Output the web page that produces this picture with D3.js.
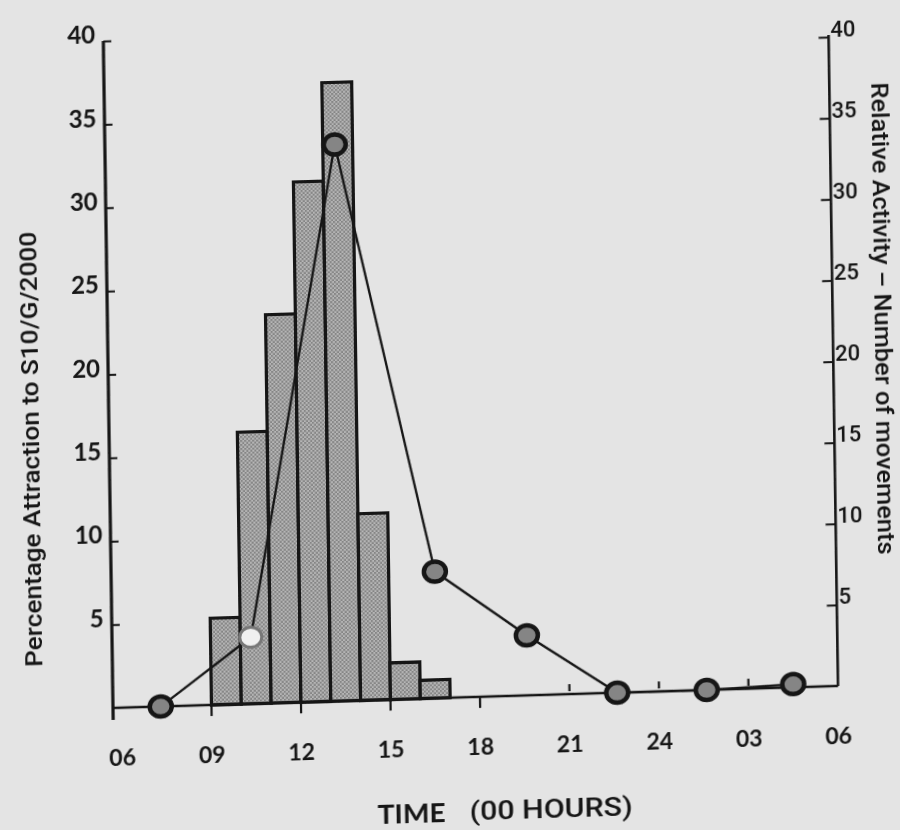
<!DOCTYPE html>
<html>
<head>
<meta charset="utf-8">
<script src="https://cdn.jsdelivr.net/npm/d3@7/dist/d3.min.js"></script>
<style>
  html, body { margin: 0; padding: 0; background: #e4e4e4; }
  svg { display: block; }
</style>
</head>
<body>
<svg id="chart" width="900" height="830"></svg>
<script>
// Hourly bins (start hour) and percentage attraction to S10/G/2000
const binStarts = [9, 10, 11, 12, 13, 14, 15, 16];
const attraction = [5.2, 16.3, 23.3, 31.2, 37.1, 11.2, 2.2, 1.1];

// Relative activity (number of movements), sampled every 3 hours
const activityHours = [7.3, 10.35, 13.4, 16.55, 19.6, 22.6, 25.6, 28.5];
const activity = [0, 4.1, 34.3, 7.8, 3.7, 0, 0, 0.2];

// Time axis (hours past midnight of day 1; 24+ runs into the next day)
const timeTicks = [6, 9, 12, 15, 18, 21, 24, 27, 30];
const timeTickLabels = ["06", "09", "12", "15", "18", "21", "24", "03", "06"];

const leftTicks = [5, 10, 15, 20, 25, 30, 35, 40];
const rightTicks = [5, 10, 15, 20, 25, 30, 35, 40];

const svg = d3.select("#chart");
svg.append("rect").attr("width", 900).attr("height", 830).attr("fill", "#e4e4e4");

const defs = svg.append("defs");
// Halftone-like stipple for the bars
const pat = defs.append("pattern")
  .attr("id", "stipple").attr("patternUnits", "userSpaceOnUse")
  .attr("width", 4).attr("height", 4);
pat.append("rect").attr("width", 4).attr("height", 4).attr("fill", "#b6b6b6");
pat.append("rect").attr("width", 2).attr("height", 2).attr("fill", "#858585");
pat.append("rect").attr("x", 2).attr("y", 2).attr("width", 2).attr("height", 2).attr("fill", "#858585");
// Soft print look
defs.append("filter").attr("id", "soft")
  .append("feGaussianBlur").attr("stdDeviation", 0.6);

// The printed figure sits slightly skewed on the page
const skewY = -0.0303, skewX = 0.0145, ox = 113, oy = 708;
const g = svg.append("g")
  .attr("filter", "url(#soft)")
  .append("g")
  .attr("transform", `matrix(1, ${skewY}, ${skewX}, 1, ${-skewX * oy}, ${-skewY * ox})`);

const x = d3.scaleLinear().domain([5.7, 30]).range([113, 838]);
const yL = d3.scaleLinear().domain([0, 40]).range([708, 41]);
const yR = d3.scaleLinear().domain([0, 40]).range([708, 59]);

const ink = "#141414";
const tickFont = "Lato, 'Open Sans', sans-serif";
const textFont = "Roboto, 'Liberation Sans', Arial, sans-serif";

// Bars
const bars = binStarts.map((h, i) => ({ h, v: attraction[i] }));
g.append("g").selectAll("rect").data(bars).join("rect")
  .attr("x", d => x(d.h))
  .attr("y", d => yL(d.v))
  .attr("width", d => x(d.h + 1) - x(d.h))
  .attr("height", d => yL(0) - yL(d.v))
  .attr("fill", "url(#stipple)")
  .attr("stroke", ink)
  .attr("stroke-width", 3.2);

// Left axis
const leftAxis = g.append("g").attr("transform", `translate(${x.range()[0]},0)`)
  .call(d3.axisLeft(yL).tickValues(leftTicks).tickSize(-8).tickPadding(8));
leftAxis.select(".domain").remove();
leftAxis.selectAll(".tick line").attr("stroke", ink).attr("stroke-width", 2);
leftAxis.selectAll(".tick text")
  .attr("y", -6)
  .attr("fill", ink)
  .style("font-family", tickFont)
  .style("font-weight", 700)
  .style("font-size", "24px");
g.append("line")
  .attr("x1", x.range()[0]).attr("x2", x.range()[0])
  .attr("y1", yL(0) + 12).attr("y2", yL(40))
  .attr("stroke", ink).attr("stroke-width", 3.2);

// Right axis
const rightAxis = g.append("g").attr("transform", `translate(${x(30)},0)`)
  .call(d3.axisRight(yR).tickValues(rightTicks).tickSize(-10).tickPadding(2));
rightAxis.select(".domain").remove();
rightAxis.selectAll(".tick line").attr("stroke", ink).attr("stroke-width", 2);
rightAxis.selectAll(".tick text")
  .attr("y", -8)
  .attr("fill", ink)
  .style("font-family", textFont)
  .style("font-weight", 500)
  .style("font-size", "22px");
g.append("line")
  .attr("x1", x(30)).attr("x2", x(30))
  .attr("y1", yR(0)).attr("y2", yR(40) - 2)
  .attr("stroke", ink).attr("stroke-width", 2.6);

// Time baseline and ticks
g.append("line")
  .attr("x1", x.range()[0]).attr("x2", x(30))
  .attr("y1", yL(0)).attr("y2", yL(0))
  .attr("stroke", ink).attr("stroke-width", 2.6);
g.append("g").selectAll("line")
  .data(timeTicks.filter(t => t > 6 && t < 30)).join("line")
  .attr("x1", d => x(d)).attr("x2", d => x(d))
  .attr("y1", d => d <= 18 ? yL(0) : yL(0) - 3)
  .attr("y2", d => d <= 18 ? yL(0) + 11 : yL(0) - 10)
  .attr("stroke", ink).attr("stroke-width", 2.2);
g.append("g").selectAll("text")
  .data(timeTicks).join("text")
  .attr("x", d => x(d))
  .attr("y", yL(0) + 49)
  .attr("text-anchor", "middle")
  .attr("dominant-baseline", "central")
  .attr("fill", ink)
  .style("font-family", tickFont)
  .style("font-weight", 700)
  .style("font-size", "23px")
  .text((d, i) => timeTickLabels[i]);

// Activity line with markers
const pts = activityHours.map((h, i) => ({ h, v: activity[i], i }));
g.append("path").datum(pts)
  .attr("fill", "none").attr("stroke", ink).attr("stroke-width", 2.3)
  .attr("d", d3.line().x(d => x(d.h)).y(d => yR(d.v)));
g.append("g").selectAll("ellipse").data(pts).join("ellipse")
  .attr("cx", d => x(d.h)).attr("cy", d => yR(d.v))
  .attr("rx", 11).attr("ry", 10)
  .attr("fill", d => d.i === 1 ? "#f0f0f0" : "#858585")
  .attr("stroke", d => d.i === 1 ? "#777" : ink)
  .attr("stroke-width", d => d.i === 1 ? 3 : 4.5);

// Axis titles
g.append("text")
  .attr("transform", "translate(35,447) rotate(-90)")
  .attr("text-anchor", "middle").attr("dominant-baseline", "central")
  .attr("textLength", 435).attr("lengthAdjust", "spacingAndGlyphs")
  .attr("fill", ink)
  .style("font-family", textFont)
  .style("font-weight", 500)
  .style("font-size", "23px")
  .text("Percentage Attraction to S10/G/2000");

g.append("text")
  .attr("transform", "translate(888,342) rotate(90)")
  .attr("text-anchor", "middle").attr("dominant-baseline", "central")
  .attr("textLength", 472).attr("lengthAdjust", "spacingAndGlyphs")
  .attr("fill", ink)
  .style("font-family", textFont)
  .style("font-weight", 500)
  .style("font-size", "23px")
  .text("Relative Activity \u2013 Number of movements");

g.append("text")
  .attr("x", 376).attr("y", 832)
  .attr("textLength", 68).attr("lengthAdjust", "spacingAndGlyphs")
  .attr("fill", ink)
  .style("font-family", tickFont)
  .style("font-weight", 700)
  .style("font-size", "26px")
  .text("TIME");
g.append("text")
  .attr("x", 468).attr("y", 831)
  .attr("textLength", 163).attr("lengthAdjust", "spacingAndGlyphs")
  .attr("fill", ink)
  .style("font-family", textFont)
  .style("font-weight", 500)
  .style("font-size", "26px")
  .text("(00 HOURS)");
</script>
</body>
</html>
